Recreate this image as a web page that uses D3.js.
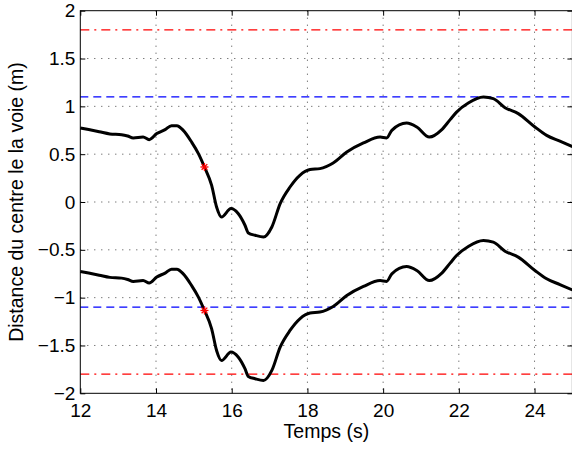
<!DOCTYPE html>
<html><head><meta charset="utf-8">
<script src="https://cdn.jsdelivr.net/npm/d3@7"></script>
<style>body{margin:0;background:#fff;} svg{display:block;font-family:"Liberation Sans",Arial,sans-serif;}</style>
</head><body>
<svg id="c" width="572" height="450"></svg>
<script>
// Data
const time = [12.00,12.22,12.50,12.78,13.09,13.25,13.40,13.66,13.82,14.02,14.24,14.41,14.55,14.72,14.94,15.12,15.28,15.47,15.60,15.73,15.98,16.17,16.35,16.44,16.62,16.84,17.06,17.28,17.54,17.80,18.07,18.33,18.68,19.04,19.48,19.92,20.09,20.23,20.62,20.89,21.22,21.55,21.77,21.94,22.25,22.65,22.91,23.22,23.57,24.01,24.32,24.67,25.00];
const upperEdge = [0.773,0.757,0.735,0.712,0.704,0.690,0.669,0.679,0.652,0.715,0.757,0.798,0.798,0.749,0.627,0.506,0.366,0.174,-0.052,-0.157,-0.069,-0.121,-0.243,-0.324,-0.348,-0.366,-0.261,-0.017,0.157,0.279,0.339,0.349,0.408,0.522,0.617,0.679,0.670,0.749,0.825,0.784,0.679,0.757,0.861,0.940,1.035,1.097,1.080,0.986,0.924,0.784,0.697,0.637,0.580];
const lowerEdge = [-0.727,-0.743,-0.765,-0.788,-0.796,-0.810,-0.831,-0.821,-0.848,-0.785,-0.743,-0.702,-0.702,-0.751,-0.873,-0.994,-1.134,-1.326,-1.552,-1.657,-1.569,-1.621,-1.743,-1.824,-1.848,-1.866,-1.761,-1.517,-1.343,-1.221,-1.161,-1.151,-1.092,-0.978,-0.883,-0.821,-0.830,-0.751,-0.675,-0.716,-0.821,-0.743,-0.639,-0.560,-0.465,-0.403,-0.420,-0.514,-0.576,-0.716,-0.803,-0.863,-0.920];
const markers = [{t:15.28, v:0.366},{t:15.28, v:-1.134}];
const limitLines = [1.8, -1.8];     // red dash-dot
const laneLines = [1.1, -1.1];      // blue dashed
const xTicks = [12,14,16,18,20,22,24];
const yTicks = [-2,-1.5,-1,-0.5,0,0.5,1,1.5,2];
const xLabel = "Temps (s)";
const yLabel = "Distance du centre le la voie (m)";

const L=80.3, R=572.4, T=10.7, B=393.3;
const svg=d3.select("#c");
const x=d3.scaleLinear().domain([12,25]).range([L,R]);
const y=d3.scaleLinear().domain([-2,2]).range([B,T]);
const fmt=v=>String(v).replace("-","\u2212");

const g=svg.append("g");
// grid
g.selectAll(".gx").data(xTicks.filter(d=>d>12)).join("line")
 .attr("x1",d=>x(d)).attr("x2",d=>x(d)).attr("y1",T).attr("y2",B)
 .attr("stroke","#444").attr("stroke-width",1).attr("stroke-dasharray","1,6");
g.selectAll(".gy").data(yTicks.filter(d=>d>-2&&d<2)).join("line")
 .attr("x1",L).attr("x2",R).attr("y1",d=>y(d)).attr("y2",d=>y(d))
 .attr("stroke","#444").attr("stroke-width",1).attr("stroke-dasharray","1,6");

// reference lines
g.selectAll(".lim").data(limitLines).join("line")
 .attr("x1",L).attr("x2",R).attr("y1",d=>y(d)).attr("y2",d=>y(d))
 .attr("stroke","#ff0000").attr("stroke-width",1.2).attr("stroke-dasharray","9,5,2,5");
g.selectAll(".lane").data(laneLines).join("line")
 .attr("x1",L).attr("x2",R).attr("y1",d=>y(d)).attr("y2",d=>y(d))
 .attr("stroke","#0000ff").attr("stroke-width",1.2).attr("stroke-dasharray","8,5");

// curves
const line=d3.line().x((d,i)=>x(time[i])).y(d=>y(d)).curve(d3.curveMonotoneX);
[upperEdge,lowerEdge].forEach(s=>{
  g.append("path").datum(s).attr("d",line).attr("fill","none")
   .attr("stroke","#000").attr("stroke-width",3).attr("stroke-linejoin","round");
});

// star markers
markers.forEach(m=>{
  const cx=x(m.t), cy=y(m.v), r=4;
  [0,45,90,135].forEach(a=>{
    const rad=a*Math.PI/180;
    g.append("line").attr("x1",cx-r*Math.cos(rad)).attr("y1",cy-r*Math.sin(rad))
     .attr("x2",cx+r*Math.cos(rad)).attr("y2",cy+r*Math.sin(rad))
     .attr("stroke","#ff0000").attr("stroke-width",1.3);
  });
});

// axes box
g.append("rect").attr("x",L).attr("y",T).attr("width",R-L).attr("height",B-T)
 .attr("fill","none").attr("stroke","#000").attr("stroke-width",1);

// axes with inward ticks
const ax=d3.axisBottom(x).tickValues(xTicks).tickSize(-5).tickPadding(10).tickFormat(fmt);
svg.append("g").attr("transform",`translate(0,${B})`).call(ax);
const at=d3.axisTop(x).tickValues(xTicks).tickSize(-5).tickFormat("");
svg.append("g").attr("transform",`translate(0,${T})`).call(at);
const ay=d3.axisLeft(y).tickValues(yTicks).tickSize(-5).tickPadding(5).tickFormat(fmt);
svg.append("g").attr("transform",`translate(${L},0)`).call(ay);
const ar=d3.axisRight(y).tickValues(yTicks).tickSize(-5).tickFormat("");
svg.append("g").attr("transform",`translate(${R},0)`).call(ar);
svg.selectAll(".domain").remove();
svg.selectAll(".tick line").attr("stroke","#000");
svg.selectAll(".tick text").attr("font-size",19).attr("fill","#000").attr("font-family","Liberation Sans, Arial, sans-serif");

svg.append("text").attr("x",(L+R)/2).attr("y",438).attr("text-anchor","middle")
 .attr("font-size",19.5).text(xLabel);
svg.append("text").attr("transform",`translate(23,${(T+B)/2}) rotate(-90)`).attr("text-anchor","middle")
 .attr("font-size",19.5).text(yLabel);
</script>
</body></html>
